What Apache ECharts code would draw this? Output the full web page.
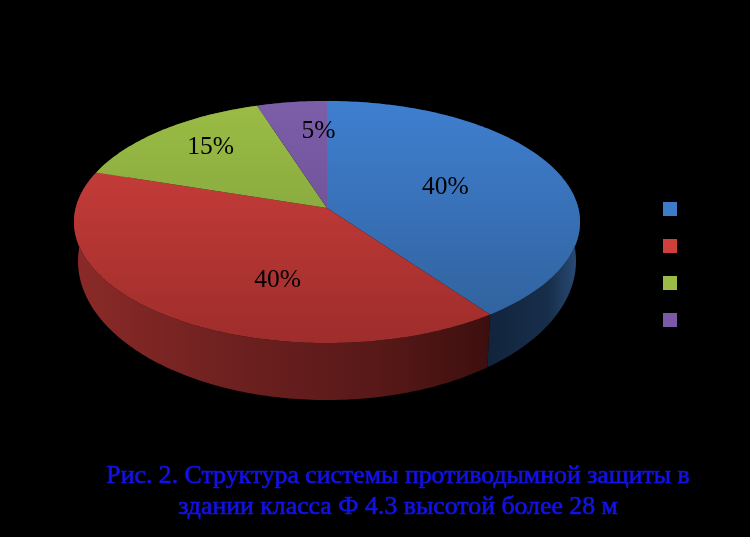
<!DOCTYPE html>
<html><head><meta charset="utf-8">
<style>html,body{margin:0;padding:0;background:#000}#c{width:750px;height:537px}</style>
<script src="https://cdn.jsdelivr.net/npm/echarts@6/dist/echarts.min.js"></script>
</head><body><div id="c"></div>
<script>
// Data
const categories = ['Сегмент 1', 'Сегмент 2', 'Сегмент 3', 'Сегмент 4'];
const values = [40, 40, 15, 5];
const titleLines = ['Рис. 2. Структура системы противодымной защиты в', 'здании класса Ф 4.3 высотой более 28 м'];

// Styles
const legendColors = ['#3d7cc9', '#cf3f3c', '#9abb45', '#7a5aa6'];
const topColors = [['#3f7fd0', '#2f6099'], ['#d2413e', '#9e2d2b'], ['#9bbd45', '#76963a'], ['#7c5ea9', '#64488a']];
const wallStops = [
  [[0, '#2b4d78'], [0.35, '#172e4b'], [1, '#12243c']],
  [[0, '#8a2a28'], [0.4, '#6c201f'], [0.75, '#561817'], [1, '#3c0f0e']],
  [[0, '#5a7028'], [1, '#5a7028']],
  [[0, '#4a3468'], [1, '#4a3468']]
];
const wallRange = [[580, 490], [76, 490], [76, 300], [250, 330]];
const labelShift = [[1, -3], [28, 22], [-31, -20], [10, -21]];

// Geometry of the tilted disc: perspective projection of a circle
const apexX = 327, apexY = 208;
const A = 251.3, B = 119.4, K = 0.1157;
const topCY = 222, topRY = 121, topRX = 253;
const baseCY = 261, baseRY = 139, baseRX = 249;

function project(theta, r) {
  const u = r * Math.sin(theta), v = -r * Math.cos(theta), w = 1 - K * v;
  return [apexX + A * u / w, apexY + B * v / w];
}
function toBase(p) {
  return [apexX + (p[0] - apexX) * baseRX / topRX, baseCY + (p[1] - topCY) * baseRY / topRY];
}
function arc(a0, a1) {
  const pts = [], n = Math.max(2, Math.ceil((a1 - a0) * 60));
  for (let i = 0; i <= n; i++) pts.push(project(a0 + (a1 - a0) * i / n, 1));
  return pts;
}
const total = values.reduce((a, b) => a + b, 0);
let acc = 0;
const spans = values.map(v => { const s = [acc, acc + v]; acc += v; return s; });

function render(idx) {
  return function (params, api) {
    const a0 = api.value(0) / total * 2 * Math.PI, a1 = api.value(1) / total * 2 * Math.PI;
    const rim = arc(a0, a1);
    const wall = rim.concat(rim.map(toBase).reverse());
    const mid = (a0 + a1) / 2, c = project(mid, 0.5);
    return {
      type: 'group',
      children: [
        { type: 'polygon', z2: 1, shape: { points: wall }, style: { fill: {
            type: 'linear', global: true, x: wallRange[idx][0], y: 0, x2: wallRange[idx][1], y2: 0,
            colorStops: wallStops[idx].map(s => ({ offset: s[0], color: s[1] })) } } },
        { type: 'polygon', z2: 2, shape: { points: [[apexX, apexY]].concat(rim) }, style: { fill: {
            type: 'linear', global: true, x: 0, y: 101, x2: 0, y2: 343,
            colorStops: [{ offset: 0, color: topColors[idx][0] }, { offset: 1, color: topColors[idx][1] }] } } },
        { type: 'text', z2: 3, style: {
            x: c[0] + labelShift[idx][0], y: c[1] + labelShift[idx][1],
            text: Math.round(api.value(2)) + '%', fill: '#000', align: 'center', verticalAlign: 'middle',
            font: '25.5px "Liberation Serif"' } }
      ]
    };
  };
}

const chart = echarts.init(document.getElementById('c'), null, { renderer: 'canvas' });
chart.setOption({
  backgroundColor: '#000',
  animation: false,
  title: {
    text: titleLines.join('\n'), left: 393, top: 456, textAlign: 'center',
    textStyle: { color: '#1212e6', fontFamily: 'Liberation Serif', fontWeight: 'normal', fontSize: 25.8, lineHeight: 31,
      textBorderColor: '#1212e6', textBorderWidth: 0.7 }
  },
  legend: {
    orient: 'vertical', left: 658, top: 197, itemWidth: 14, itemHeight: 14, itemGap: 23,
    selectedMode: false, icon: 'rect', formatter: () => '',
    data: categories
  },
  series: categories.map((name, i) => ({
    type: 'custom', name, coordinateSystem: 'none',
    itemStyle: { color: legendColors[i] },
    data: [[spans[i][0], spans[i][1], values[i]]],
    renderItem: render(i)
  }))
});
</script></body></html>
